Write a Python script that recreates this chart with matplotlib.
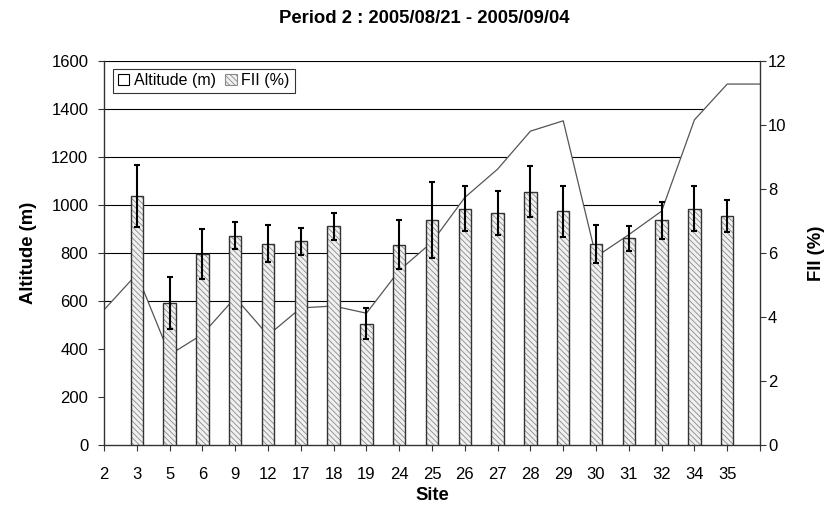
import matplotlib
matplotlib.use("Agg")
import matplotlib.pyplot as plt
from matplotlib.patches import Patch
import numpy as np

plt.rcParams['font.family'] = ['Liberation Sans', 'DejaVu Sans']
plt.rcParams['hatch.linewidth'] = 0.6

# sites on the category axis (one extra unlabeled tick at the end)
sites = ['2', '3', '5', '6', '9', '12', '17', '18', '19', '24', '25',
         '26', '27', '28', '29', '30', '31', '32', '34', '35']
# altitude (m), one value per tick incl. the trailing one
altitude = [564, 713, 377, 462, 615, 458, 572, 580, 550, 728, 846,
            1032, 1150, 1308, 1351, 785, 877, 975, 1355, 1504, 1504]
# FII (%) for sites 3 ... 35
fii = [7.79, 4.44, 5.98, 6.54, 6.30, 6.37, 6.84, 3.80, 6.27, 7.04,
       7.39, 7.26, 7.92, 7.31, 6.29, 6.47, 7.02, 7.39, 7.16]
fii_err = [0.96, 0.80, 0.78, 0.42, 0.57, 0.42, 0.42, 0.48, 0.77, 1.18,
           0.71, 0.69, 0.80, 0.79, 0.60, 0.39, 0.59, 0.70, 0.49]

fig = plt.figure(figsize=(8.29, 5.05), dpi=100)
ax = fig.add_axes([0.1255, 0.1182, 0.7913, 0.761])
ax2 = ax.twinx()

x_alt = np.arange(len(altitude))
x_bar = np.arange(1, len(fii) + 1)

# gridlines sit under the white area
ax.set_axisbelow(True)
ax.yaxis.grid(True, color='black', linewidth=0.8)
ax.fill_between(x_alt, altitude, 0, facecolor='white', edgecolor='none', zorder=1)
ax.plot(x_alt, altitude, color='#555555', linewidth=0.9, zorder=2)

ax.set_xlim(0, 20)
ax.set_ylim(0, 1600)
ax.set_yticks(range(0, 1601, 200))
ax.set_xticks(range(0, 21))
ax.set_xticklabels(sites + [''])

# hatched bars, then outlines on top
ax2.bar(x_bar, fii, width=0.38, facecolor='#f0f0f0', edgecolor='#8a8a8a',
        hatch='\\\\\\\\\\\\', linewidth=0, zorder=2)
ax2.bar(x_bar, fii, width=0.38, facecolor='none', edgecolor='#333333',
        linewidth=1.0, zorder=3)
ax2.errorbar(x_bar, fii, yerr=fii_err, fmt='none', ecolor='black',
             elinewidth=1.5, capsize=2.5, capthick=1.5, zorder=4)
ax2.set_ylim(0, 12)
ax2.set_yticks(range(0, 13, 2))

for a in (ax, ax2):
    a.spines['top'].set_visible(False)
    for s in a.spines.values():
        s.set_color('#333333')
        s.set_linewidth(1.0)
ax.spines['right'].set_visible(False)
ax2.spines['left'].set_visible(False)
ax2.spines['bottom'].set_visible(False)

ax.tick_params(axis='y', labelsize=12, length=4.3, direction='out', pad=7, color='#333333')
ax.tick_params(axis='x', labelsize=12, length=4.3, direction='out', pad=11, color='#333333')
ax2.tick_params(axis='y', labelsize=12, length=4.3, direction='out', pad=1.5, color='#333333')

ax.set_xlabel('Site', fontsize=13.3, fontweight='bold')
ax.xaxis.set_label_coords(0.5, -0.109)
ax.set_ylabel('Altitude (m)', fontsize=13.3, fontweight='bold')
ax.yaxis.set_label_coords(-0.102, 0.5)
ax2.set_ylabel('FII (%)', fontsize=13.3, fontweight='bold')
ax2.yaxis.set_label_coords(1.073, 0.5)

fig.text(0.5115, 0.964, 'Period 2 : 2005/08/21 - 2005/09/04', ha='center', va='center',
         fontsize=13.3, fontweight='bold')

handles = [Patch(facecolor='white', edgecolor='black', linewidth=0.8),
           Patch(facecolor='#f0f0f0', edgecolor='#8a8a8a', hatch='\\\\\\\\\\\\', linewidth=0.8)]
leg = ax2.legend(handles, ['Altitude (m)', 'FII (%)'], loc='upper left',
                 bbox_to_anchor=(0.0137, 0.98), borderaxespad=0, ncol=2,
                 fontsize=11.5, frameon=True, fancybox=False, handlelength=0.7,
                 handleheight=0.7, handletextpad=0.3, columnspacing=0.6,
                 borderpad=0.3)
leg.get_frame().set_edgecolor('black')
leg.get_frame().set_linewidth(0.8)

fig.savefig('out.png', dpi=100)
